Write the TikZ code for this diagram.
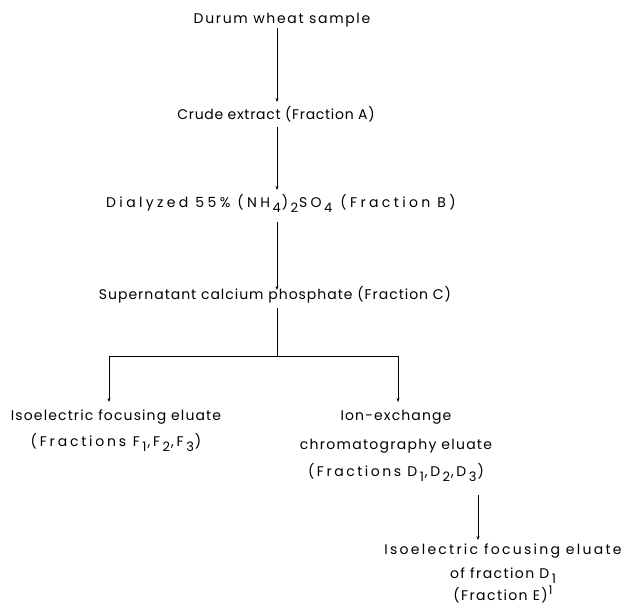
\documentclass[tikz,border=0pt]{standalone}
\usepackage{fontspec}
\setmainfont{Poppins}
\usetikzlibrary{arrows.meta}
\tikzset{
  lbl/.style={inner sep=1pt, font=\fontsize{14}{27}\selectfont\addfontfeature{LetterSpace=#1}, align=center},
  lbl/.default=8,
  arr/.style={-{Stealth[length=4pt,width=3pt]}, line width=0.6pt},
  ln/.style={line width=0.6pt}
}
\newcommand{\sbs}[1]{\hspace{2.5pt}\raisebox{-5pt}{\fontsize{13}{13}\selectfont #1}\hspace{1pt}}
\newcommand{\sps}[1]{\hspace{1pt}\raisebox{6pt}{\fontsize{12}{12}\selectfont #1}}
\newcommand{\ls}[1]{\addfontfeature{LetterSpace=#1}}
\begin{document}
\begin{tikzpicture}[x=1pt,y=-1pt]
\useasboundingbox (0,0) rectangle (625,608);
\node[lbl=12] (dws) at (282,20) {Durum wheat sample};
\node[lbl=5] (cea) at (276,114) {Crude extract (Fraction A)};
\node[lbl=24] (dia) at (281,203) {Dialyzed 55\% (NH\sbs{4})\sbs{2}SO\sbs{4} (Fraction B)};
\node[lbl=7] (sup) at (275,295) {Supernatant calcium phosphate (Fraction C)};
\coordinate (j) at (277,356);
\coordinate (jl) at (109,356);
\coordinate (jr) at (398,356);
\node[lbl=8, anchor=north] (ief) at (116,409) {Isoelectric focusing eluate\\[-1pt]\ls{20}(Fractions F\sbs{1},F\sbs{2},F\sbs{3})};
\node[lbl=8, anchor=north] (iec) at (396,409) {Ion-exchange\\[2pt]\ls{9}chromatography eluate\\[0pt]\ls{18}(Fractions D\sbs{1},D\sbs{2},D\sbs{3})};
\node[lbl=16, anchor=north] (iee) at (503,543) {Isoelectric focusing eluate\\[-3pt]\ls{10}of fraction D\sbs{1}\\[-5pt]\ls{10}(Fraction E)\sps{1}};
\draw[arr] (dws.south -| j) -- (277,102);
\draw[arr] (277,127) -- (277,190);
\draw[arr] (277,222) -- (277,290);
\draw[ln] (277,308) -- (j);
\draw[ln] (jl) -- (jr);
\draw[arr] (jl) -- (109,402);
\draw[arr] (jr) -- (398,402);
\draw[arr] (478,495) -- (478,540);
\end{tikzpicture}
\end{document}
